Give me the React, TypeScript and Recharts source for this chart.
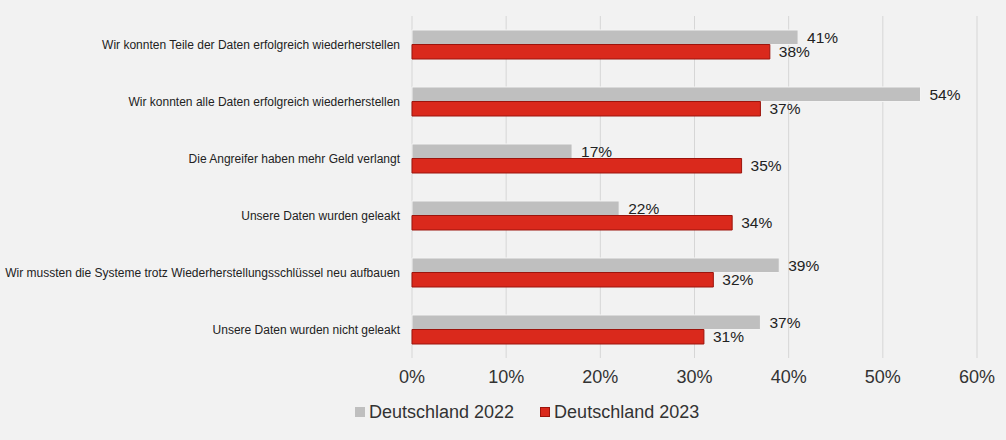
import React from "react";
import { BarChart, Bar, XAxis, YAxis, CartesianGrid, Legend, LabelList } from "recharts";

const categories = [
  "Wir konnten Teile der Daten erfolgreich wiederherstellen",
  "Wir konnten alle Daten erfolgreich wiederherstellen",
  "Die Angreifer haben mehr Geld verlangt",
  "Unsere Daten wurden geleakt",
  "Wir mussten die Systeme trotz Wiederherstellungsschlüssel neu aufbauen",
  "Unsere Daten wurden nicht geleakt",
];
const values2022 = [41, 54, 17, 22, 39, 37];
const values2023 = [38, 37, 35, 34, 32, 31];
const xTicks = [0, 10, 20, 30, 40, 50, 60];

const series = [
  { key: "d2022", name: "Deutschland 2022", fill: "#bfbfbf", stroke: "#f4f4f4" },
  { key: "d2023", name: "Deutschland 2023", fill: "#da291c", stroke: "#9c140c" },
];

const data = categories.map((name, i) => ({
  name,
  d2022: values2022[i],
  d2023: values2023[i],
}));

const font = "'Liberation Sans', Arial, sans-serif";

function CategoryTick(props: any) {
  const { x, y, payload } = props;
  return (
    <text x={x} y={y} dy="0.355em" textAnchor="end" fontSize={12} fill="#222" fontFamily={font}>
      {payload.value}
    </text>
  );
}

function LegendBox() {
  return (
    <div
      style={{
        height: 44,
        boxSizing: "border-box",
        paddingTop: 6,
        paddingLeft: 355,
        display: "flex",
        alignItems: "flex-start",
        fontFamily: font,
        fontSize: 18,
        color: "#333",
      }}
    >
      {series.map((s, i) => (
        <div
          key={s.key}
          style={{ display: "flex", alignItems: "center", height: 20, marginRight: i === 0 ? 26 : 0 }}
        >
          <span
            style={{
              width: 10,
              height: 10,
              boxSizing: "border-box",
              background: s.fill,
              border: `1px solid ${i === 0 ? "#bfbfbf" : s.stroke}`,
              marginRight: 4,
              display: "inline-block",
            }}
          />
          <span>{s.name}</span>
        </div>
      ))}
    </div>
  );
}

export default function App() {
  return (
    <div
      style={{
        position: "absolute",
        left: 0,
        top: 0,
        width: 1006,
        height: 440,
        background: "#f2f2f2",
      }}
    >
      <BarChart
        width={1006}
        height={440}
        data={data}
        layout="vertical"
        margin={{ top: 16, right: 29, left: 0, bottom: 0 }}
        barGap={0}
        barSize={14.5}
      >
        <CartesianGrid horizontal={false} stroke="#d6d6d6" />
        <XAxis
          type="number"
          domain={[0, 60]}
          ticks={xTicks}
          tickFormatter={(v) => `${v}%`}
          axisLine={false}
          tickLine={false}
          tickSize={0}
          tickMargin={12}
          height={38}
          tick={{ fontSize: 18, fill: "#333", fontFamily: font }}
        />
        <YAxis
          type="category"
          dataKey="name"
          width={412}
          axisLine={false}
          tickLine={false}
          tickSize={0}
          tickMargin={12}
          interval={0}
          tick={<CategoryTick />}
        />
        <Legend verticalAlign="bottom" content={() => <LegendBox />} />
        {series.map((s) => (
          <Bar
            key={s.key}
            dataKey={s.key}
            name={s.name}
            fill={s.fill}
            stroke={s.stroke}
            strokeWidth={1}
            isAnimationActive={false}
          >
            <LabelList
              dataKey={s.key}
              position="right"
              offset={9}
              formatter={(v: number) => `${v}%`}
              style={{ fontSize: 15.5, fill: "#222", fontFamily: font }}
            />
          </Bar>
        ))}
      </BarChart>
    </div>
  );
}
